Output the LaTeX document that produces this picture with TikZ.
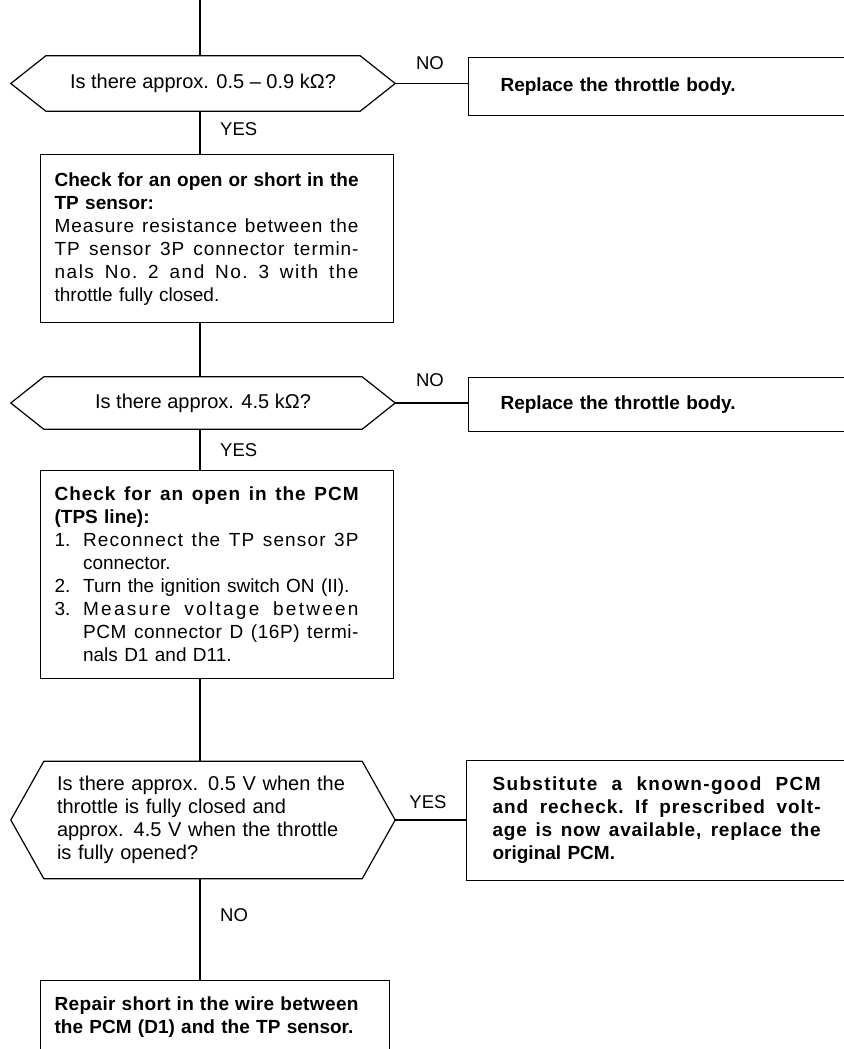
\documentclass[tikz,border=0pt]{standalone}
\usepackage{fontspec}
\setmainfont{Liberation Sans}
\newlength\tw
\setlength\tw{304pt}
\newcommand\stretchsp{\spaceskip=.28em plus 1fil\xspaceskip=.28em plus 1fil\relax}
\newcommand\jl[2][0]{\makebox[\tw][s]{\stretchsp\addfontfeature{LetterSpace=#1}#2}}
\newcommand\itm[3][0]{\makebox[1.5em][l]{#2}\makebox[\dimexpr\tw-1.5em\relax][s]{\stretchsp\addfontfeature{LetterSpace=#1}#3}}
\newcommand\itmr[2]{\makebox[1.5em][l]{#1}#2}
\newcommand\cnt[1]{\hspace*{1.5em}#1}
\newcommand\cntj[2][0]{\hspace*{1.5em}\makebox[\dimexpr\tw-1.5em\relax][s]{\stretchsp\addfontfeature{LetterSpace=#1}#2}}
\newcommand\hexa[2]{\draw[ln] (#1.west) -- ([xshift=#2]#1.north west) -- ([xshift=-#2]#1.north east) -- (#1.east) -- ([xshift=-#2]#1.south east) -- ([xshift=#2]#1.south west) -- cycle;}
\begin{document}
\begin{tikzpicture}[x=1pt,y=-1pt,
  ln/.style={line width=1.2pt},
  dectext/.style={font=\fontsize{20}{23}\selectfont, inner sep=0pt, minimum width=384pt},
  lbl/.style={font=\fontsize{18.5}{20}\selectfont, inner sep=0pt},
  stepbox/.style={ln, draw, font=\fontsize{19}{23}\selectfont, inner ysep=0pt, align=left, anchor=north west},
  resbox/.style={stepbox, font=\bfseries\fontsize{19}{23}\selectfont},
]
\useasboundingbox (0,0) rectangle (843,1049);

\coordinate (top) at (200,0);

% decision 1
\node[dectext, minimum height=55pt, align=center] (d1) at (203,83.5) {Is there approx. 0.5 – 0.9 kΩ?};
\hexa{d1}{35pt}
\node[resbox, minimum height=58pt, text width=330pt, inner xsep=32pt] (r1) at (468,57) {Replace the throttle body.};
\node[lbl] (no1) at (430,63) {NO};
\node[lbl, anchor=west] (yes1) at (220,129) {YES};

% box 1
\node[stepbox, minimum height=168pt, minimum width=353pt, text width=325pt, inner xsep=0pt] (b1) at (40,154) {%
{\bfseries\jl{Check for an open or short in the}}\\
{\bfseries TP sensor:}\\
\jl[5]{Measure resistance between the}\\
\jl[5]{TP sensor 3P connector termin-}\\
\jl[8]{nals No. 2 and No. 3 with the}\\
throttle fully closed.};

% decision 2
\node[dectext, minimum height=52pt, align=center] (d2) at (203,403) {Is there approx. 4.5 kΩ?};
\hexa{d2}{33pt}
\node[resbox, minimum height=54pt, text width=330pt, inner xsep=32pt] (r2) at (468,377) {Replace the throttle body.};
\node[lbl] (no2) at (430,380) {NO};
\node[lbl, anchor=west] (yes2) at (220,450) {YES};

% box 2
\node[stepbox, minimum height=208pt, minimum width=353pt, text width=325pt, inner xsep=0pt] (b2) at (40,470) {%
{\bfseries\jl[5]{Check for an open in the PCM}}\\
{\bfseries (TPS line):}\\
\itm[6]{1.}{Reconnect the TP sensor 3P}\\
\cnt{connector.}\\
\itmr{2.}{Turn the ignition switch ON (II).}\\
\itm[12]{3.}{Measure voltage between}\\
\cntj[3]{PCM connector D (16P) termi-}\\
\cnt{nals D1 and D11.}};

% decision 3
\node[dectext, minimum height=117pt, text width=292pt, align=left] (d3) at (203,820) {Is there approx. 0.5 V when the\\ throttle is fully closed and\\ approx. 4.5 V when the throttle\\ is fully opened?};
\hexa{d3}{33pt}
\node[resbox, minimum height=120pt, text width=328pt, inner xsep=26pt] (r3) at (466,760) {%
\setlength\tw{328pt}%
\jl[7]{Substitute a known-good PCM}\\
\jl[5]{and recheck. If prescribed volt-}\\
\jl[4]{age is now available, replace the}\\
original PCM.};
\node[lbl] (yes3) at (428,802) {YES};
\node[lbl, anchor=west] (no3) at (220,915) {NO};

% box 4
\node[resbox, minimum height=72pt, minimum width=349pt, text width=321pt, inner xsep=0pt] (b4) at (40,980) {%
\jl[2]{Repair short in the wire between}\\
the PCM (D1) and the TP sensor.};

% connectors
\draw[ln] (top) -- (top |- d1.north);
\draw[ln] (d1.east) -- (d1.east -| r1.west);
\draw[ln] (top |- d1.south) -- (top |- b1.north);
\draw[ln] (top |- b1.south) -- (top |- d2.north);
\draw[ln] (d2.east) -- (d2.east -| r2.west);
\draw[ln] (top |- d2.south) -- (top |- b2.north);
\draw[ln] (top |- b2.south) -- (top |- d3.north);
\draw[ln] (d3.east) -- (d3.east -| r3.west);
\draw[ln] (top |- d3.south) -- (top |- b4.north);
\end{tikzpicture}
\end{document}
